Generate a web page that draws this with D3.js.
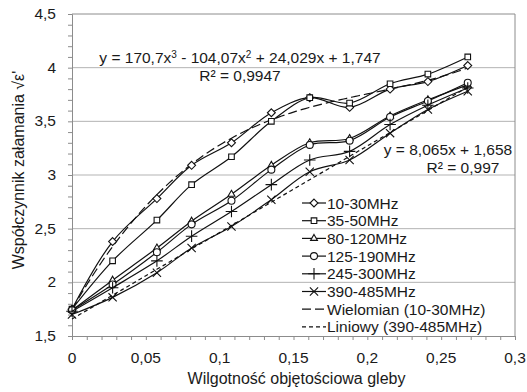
<!DOCTYPE html>
<html>
<head>
<meta charset="utf-8">
<script src="https://d3js.org/d3.v7.min.js"></script>
<style>
  body { margin: 0; background: #fff; }
  text { font-family: "Liberation Sans", Arial, sans-serif; fill: #1a1a1a; }
  .grid line { stroke: #b3b3b3; stroke-width: 1px; }
  .series { fill: none; stroke: #111; stroke-width: 1.2px; }
  .marker { fill: #fff; stroke: #111; stroke-width: 1.1px; }
</style>
</head>
<body>
<div id="chart"></div>
<script>
// moisture values (x) and refraction coefficient per frequency band
const moisture = [0, 0.0275, 0.0575, 0.081, 0.108, 0.135, 0.161, 0.188, 0.2154, 0.241, 0.268];
const s10_30   = [1.75, 2.38, 2.78, 3.09, 3.30, 3.58, 3.72, 3.63, 3.80, 3.87, 4.02];
const s35_50   = [1.75, 2.20, 2.58, 2.91, 3.17, 3.50, 3.72, 3.67, 3.85, 3.94, 4.10];
const s80_120  = [1.74, 2.02, 2.32, 2.57, 2.82, 3.09, 3.30, 3.34, 3.55, 3.70, 3.84];
const s125_190 = [1.74, 1.98, 2.28, 2.54, 2.76, 3.05, 3.28, 3.32, 3.54, 3.69, 3.86];
const s245_300 = [1.73, 1.95, 2.20, 2.43, 2.66, 2.91, 3.14, 3.22, 3.47, 3.65, 3.81];
const s390_485 = [1.70, 1.86, 2.09, 2.32, 2.52, 2.77, 3.03, 3.14, 3.39, 3.61, 3.78];
const seriesNames = ["10-30MHz", "35-50MHz", "80-120MHz", "125-190MHz", "245-300MHz", "390-485MHz"];

// trendline coefficients as printed on the chart
const polyCoef = [1.747, 24.029, -104.07, 170.7];   // c0 + c1 x + c2 x^2 + c3 x^3
const linCoef = [1.658, 8.065];
const trendNames = ["Wielomian (10-30MHz)", "Liniowy (390-485MHz)"];

const xTicks = [0, 0.05, 0.1, 0.15, 0.2, 0.25, 0.3];
const yTicks = [1.5, 2, 2.5, 3, 3.5, 4, 4.5];

const width = 527, height = 392;
const margin = { left: 72, right: 12, top: 14, bottom: 56 };

const svg = d3.select("#chart").append("svg")
  .attr("width", width).attr("height", height);

const x = d3.scaleLinear().domain([0, 0.3]).range([margin.left, width - margin.right]);
const y = d3.scaleLinear().domain([1.5, 4.5]).range([height - margin.bottom, margin.top]);

const fmt = d => String(d).replace(".", ",");

// gridlines
svg.append("g").attr("class", "grid")
  .selectAll("line").data(yTicks.slice(1, -1)).enter().append("line")
  .attr("x1", x(0)).attr("x2", x(0.3))
  .attr("y1", d => y(d)).attr("y2", d => y(d));

// plot border (top/right)
svg.append("path")
  .attr("d", `M${x(0)},${y(4.5)}H${x(0.3)}V${y(1.5)}`)
  .attr("fill", "none").attr("stroke", "#8c8c8c");

// axes
const yAxis = svg.append("g").attr("transform", `translate(${x(0)},0)`)
  .call(d3.axisLeft(y).tickValues(d3.range(15, 46).map(d => d / 10)).tickSize(4).tickFormat(""));
const xAxis = svg.append("g").attr("transform", `translate(0,${y(1.5)})`)
  .call(d3.axisBottom(x).tickValues(d3.range(0, 31).map(d => d / 100)).tickSize(4).tickFormat(""));
[xAxis, yAxis].forEach(a => {
  a.selectAll("line, path").attr("stroke", "#8c8c8c");
});

svg.append("g").selectAll("text").data(yTicks).enter().append("text")
  .attr("x", 56).attr("y", d => y(d) + 5)
  .attr("text-anchor", "end").style("font-size", "15.5px")
  .text(fmt);
svg.append("g").selectAll("text").data(xTicks).enter().append("text")
  .attr("x", d => x(d)).attr("y", 363)
  .attr("text-anchor", "middle").style("font-size", "15.5px")
  .text(fmt);

svg.append("text").attr("x", x(0.15) + 3).attr("y", 384)
  .attr("text-anchor", "middle").style("font-size", "16px")
  .text("Wilgotność objętościowa gleby");
svg.append("text").attr("transform", "translate(24,170) rotate(-90)")
  .attr("text-anchor", "middle").style("font-size", "16px")
  .text("Współczynnik załamania √ε'");

// trendlines
const xs = d3.range(0, 0.2681, 0.002);
const poly = v => polyCoef.reduce((s, c, i) => s + c * Math.pow(v, i), 0);
const lin = v => linCoef[0] + linCoef[1] * v;
const tline = d3.line().x(d => x(d[0])).y(d => y(d[1]));
svg.append("path").attr("class", "series")
  .attr("d", tline(xs.map(v => [v, poly(v)])))
  .attr("stroke-dasharray", "9,4");
svg.append("path").attr("class", "series")
  .attr("d", tline(xs.map(v => [v, lin(v)])))
  .attr("stroke-dasharray", "4,3");

// series
const allSeries = [s10_30, s35_50, s80_120, s125_190, s245_300, s390_485];
const symbols = [
  d3.symbol().type(d3.symbolDiamond2 || d3.symbolDiamond).size(40),
  d3.symbol().type(d3.symbolSquare2 || d3.symbolSquare).size(40),
  d3.symbol().type(d3.symbolTriangle2 || d3.symbolTriangle).size(34),
  d3.symbol().type(d3.symbolCircle).size(38),
  d3.symbol().type(d3.symbolPlus || d3.symbolCross).size(46),
  d3.symbol().type(d3.symbolTimes || d3.symbolCross).size(46)
];
const curve = d3.line().curve(d3.curveCatmullRom.alpha(0.5))
  .x((d, i) => x(moisture[i])).y(d => y(d));

allSeries.forEach((vals, k) => {
  svg.append("path").attr("class", "series").attr("d", curve(vals));
  svg.append("g").selectAll("path").data(vals).enter().append("path")
    .attr("class", "marker")
    .attr("transform", (d, i) => `translate(${x(moisture[i])},${y(d)})`)
    .attr("d", symbols[k]());
});

// legend
const lg = svg.append("g").attr("transform", "translate(302,203)");
const rowH = 17.7;
seriesNames.forEach((name, k) => {
  const g = lg.append("g").attr("transform", `translate(0,${k * rowH})`);
  g.append("line").attr("class", "series").attr("x1", 0).attr("x2", 24).attr("y1", 0).attr("y2", 0);
  g.append("path").attr("class", "marker").attr("transform", "translate(12,0)").attr("d", symbols[k]());
  g.append("text").attr("x", 25).attr("y", 5.5).style("font-size", "15.5px").text(name);
});
trendNames.forEach((name, k) => {
  const g = lg.append("g").attr("transform", `translate(0,${(k + 6) * rowH})`);
  g.append("line").attr("class", "series").attr("x1", 0).attr("x2", 24).attr("y1", 0).attr("y2", 0)
    .attr("stroke-dasharray", k === 0 ? "9,4" : "4,3");
  g.append("text").attr("x", 25).attr("y", 5.5).style("font-size", "15.5px").text(name);
});

// trendline equations
svg.append("text").attr("x", 240).attr("y", 63).attr("text-anchor", "middle").style("font-size", "15.5px")
  .html("y = 170,7x<tspan dy='-5' font-size='10px'>3</tspan><tspan dy='5'> - 104,07x</tspan><tspan dy='-5' font-size='10px'>2</tspan><tspan dy='5'> + 24,029x + 1,747</tspan>");
svg.append("text").attr("x", 240).attr("y", 81).attr("text-anchor", "middle").style("font-size", "15.5px")
  .text("R² = 0,9947");
svg.append("text").attr("x", 448).attr("y", 155).attr("text-anchor", "middle").style("font-size", "15.5px")
  .text("y = 8,065x + 1,658");
svg.append("text").attr("x", 463).attr("y", 173).attr("text-anchor", "middle").style("font-size", "15.5px")
  .text("R² = 0,997");
</script>
</body>
</html>
